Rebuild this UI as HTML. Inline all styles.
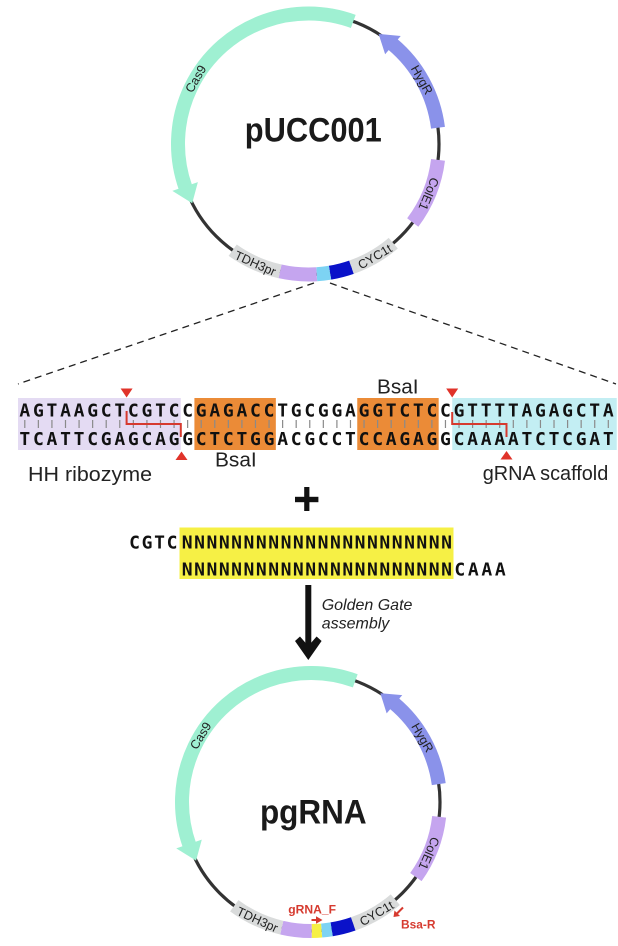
<!DOCTYPE html>
<html><head><meta charset="utf-8">
<style>
html,body{margin:0;padding:0;background:#fff;}
svg{display:block;}
</style></head>
<body>
<svg width="618" height="946" viewBox="0 0 618 946" xmlns="http://www.w3.org/2000/svg">
<rect width="618" height="946" fill="#fff"/>

<!-- ===== TOP PLASMID ===== -->
<g>
<circle cx="308.5" cy="144" r="130.5" fill="none" stroke="#333" stroke-width="3.2"/>
<g fill="none" stroke-width="14">
<circle cx="308.5" cy="144" r="130.5" stroke="#9ff0d2" stroke-dasharray="295 2000" transform="rotate(160.5 308.5 144)"/>
<circle cx="308.5" cy="144" r="130.5" stroke="#8a92ea" stroke-dasharray="97.5 2000" transform="rotate(-50 308.5 144)"/>
<circle cx="308.5" cy="144" r="130.5" stroke="#c5a5ef" stroke-dasharray="68.3 2000" transform="rotate(7 308.5 144)"/>
<circle cx="308.5" cy="144" r="130.5" stroke="#d9dbdb" stroke-dasharray="48.5 2000" transform="rotate(49.5 308.5 144)"/>
<circle cx="308.5" cy="144" r="130.5" stroke="#0a12c9" stroke-dasharray="22.1 2000" transform="rotate(70.8 308.5 144)"/>
<circle cx="308.5" cy="144" r="130.5" stroke="#7dd3f3" stroke-dasharray="13.4 2000" transform="rotate(80.5 308.5 144)"/>
<circle cx="308.5" cy="144" r="130.5" stroke="#c5a5ef" stroke-dasharray="36.9 2000" transform="rotate(86.4 308.5 144)"/>
<circle cx="308.5" cy="144" r="130.5" stroke="#d9dbdb" stroke-dasharray="52.2 2000" transform="rotate(102.6 308.5 144)"/>
</g>
<polygon points="308.5,0 308.5,27 290.34,14.77" fill="#9ff0d2" transform="rotate(251 308.5 144)"/>
<polygon points="308.5,2 308.5,26 290.34,14.77" fill="#8a92ea" transform="rotate(40.5 308.5 144)"/>
<g font-family="Liberation Sans, Arial, sans-serif" font-size="12.5" fill="#222" text-anchor="middle">
<text x="308.5" y="18" transform="rotate(300 308.5 144)">Cas9</text>
<text x="308.5" y="18" transform="rotate(60.5 308.5 144)">HygR</text>
<text x="308.5" y="18" transform="rotate(112.5 308.5 144)">ColE1</text>
<text x="308.5" y="279" transform="rotate(24 308.5 144)">TDH3pr</text>
<text x="308.5" y="279" transform="rotate(-30.5 308.5 144)">CYC1t</text>
</g>
<text x="313.3" y="141.7" font-family="Liberation Sans, Arial, sans-serif" font-weight="bold" font-size="34" fill="#1a1a1a" text-anchor="middle" textLength="137" lengthAdjust="spacingAndGlyphs">pUCC001</text>
</g>

<!-- dashed zoom lines -->
<g stroke="#222" stroke-width="1.3" stroke-dasharray="7 5" fill="none">
<line x1="314" y1="283" x2="18" y2="384"/>
<line x1="330" y1="283" x2="616" y2="384"/>
</g>

<!-- ===== SEQUENCE ===== -->
<rect x="18" y="398" width="162.8" height="52" fill="#e4dbf3"/>
<rect x="194.41" y="398" width="81.42" height="52" fill="#eb8b37"/>
<rect x="357.25" y="398" width="81.42" height="52" fill="#eb8b37"/>
<rect x="452.24" y="398" width="164.5" height="52" fill="#c3eef3"/>

<path stroke="#8a8a8a" stroke-width="1.2" fill="none" d="M24.79 420V428M38.36 420V428M51.93 420V428M65.5 420V428M79.07 420V428M92.64 420V428M106.21 420V428M119.78 420V428M133.35 420V428M146.92 420V428M160.49 420V428M174.06 420V428M187.63 420V428M201.2 420V428M214.77 420V428M228.34 420V428M241.91 420V428M255.48 420V428M269.05 420V428M282.62 420V428M296.19 420V428M309.76 420V428M323.33 420V428M336.9 420V428M350.47 420V428M364.04 420V428M377.61 420V428M391.18 420V428M404.75 420V428M418.32 420V428M431.89 420V428M445.46 420V428M459.03 420V428M472.6 420V428M486.17 420V428M499.74 420V428M513.31 420V428M526.88 420V428M540.45 420V428M554.02 420V428M567.59 420V428M581.16 420V428M594.73 420V428M608.3 420V428"/>

<g font-family="DejaVu Sans Mono, Liberation Mono, monospace" font-weight="bold" font-size="18" fill="#111" text-anchor="middle">
<text x="24.79 38.36 51.93 65.5 79.07 92.64 106.21 119.78 133.35 146.92 160.49 174.06 187.63 201.2 214.77 228.34 241.91 255.48 269.05 282.62 296.19 309.76 323.33 336.9 350.47 364.04 377.61 391.18 404.75 418.32 431.89 445.46 459.03 472.6 486.17 499.74 513.31 526.88 540.45 554.02 567.59 581.16 594.73 608.3" y="416.7">AGTAAGCTCGTCCGAGACCTGCGGAGGTCTCCGTTTTAGAGCTA</text>
<text x="24.79 38.36 51.93 65.5 79.07 92.64 106.21 119.78 133.35 146.92 160.49 174.06 187.63 201.2 214.77 228.34 241.91 255.48 269.05 282.62 296.19 309.76 323.33 336.9 350.47 364.04 377.61 391.18 404.75 418.32 431.89 445.46 459.03 472.6 486.17 499.74 513.31 526.88 540.45 554.02 567.59 581.16 594.73 608.3" y="445">TCATTCGAGCAGGCTCTGGACGCCTCCAGAGGCAAAATCTCGAT</text>
</g>

<!-- cut lines -->
<g stroke="#d63a2f" stroke-width="2" fill="none">
<polyline points="126.6,411 126.6,424 180.8,424 180.8,437"/>
<polyline points="452.2,412 452.2,424 506.5,424 506.5,437"/>
</g>
<g fill="#e0332a">
<polygon points="120.6,388.5 132.6,388.5 126.6,397.5"/>
<polygon points="446.2,388.5 458.2,388.5 452.2,397.5"/>
<polygon points="175.5,460 187.5,460 181.5,451.5"/>
<polygon points="500.5,459.5 512.5,459.5 506.5,451"/>
</g>

<g font-family="Liberation Sans, Arial, sans-serif" font-size="20" fill="#222">
<text x="28" y="481" textLength="124" lengthAdjust="spacingAndGlyphs">HH ribozyme</text>
<text x="215" y="466.7" textLength="41.7" lengthAdjust="spacingAndGlyphs">BsaI</text>
<text x="377" y="393.3" textLength="41.5" lengthAdjust="spacingAndGlyphs">BsaI</text>
<text x="482.7" y="480" textLength="125.6" lengthAdjust="spacingAndGlyphs">gRNA scaffold</text>
</g>

<!-- plus -->
<rect x="304.2" y="487" width="5.2" height="24" fill="#111"/>
<rect x="295" y="496.8" width="23.4" height="5.4" fill="#111"/>

<!-- insert -->
<rect x="179.5" y="527.5" width="274" height="51.5" fill="#f6f045"/>
<g font-family="DejaVu Sans Mono, Liberation Mono, monospace" font-weight="bold" font-size="18" fill="#111" text-anchor="middle">
<text x="134.5 147 159.5 172 187.2 199.55 211.9 224.25 236.6 248.95 261.3 273.65 286 298.35 310.7 323.05 335.4 347.75 360.1 372.45 384.8 397.15 409.5 421.85 434.2 446.55" y="548.7">CGTCNNNNNNNNNNNNNNNNNNNNNN</text>
<text x="187.2 199.55 211.9 224.25 236.6 248.95 261.3 273.65 286 298.35 310.7 323.05 335.4 347.75 360.1 372.45 384.8 397.15 409.5 421.85 434.2 446.55 459.75 473.25 486.75 500.25" y="575.3">NNNNNNNNNNNNNNNNNNNNNNCAAA</text>
</g>

<!-- arrow -->
<rect x="305.3" y="585" width="6" height="66" fill="#111"/>
<polygon points="295,641 300,636.5 308.3,646 316.6,636.5 321.6,641 308.3,660" fill="#111"/>
<g font-family="Liberation Sans, Arial, sans-serif" font-size="16" font-style="italic" fill="#222">
<text x="321.7" y="610">Golden Gate</text>
<text x="321.7" y="628.3">assembly</text>
</g>

<!-- ===== BOTTOM PLASMID ===== -->
<g>
<circle cx="311" cy="802" r="129" fill="none" stroke="#333" stroke-width="3.2"/>
<g fill="none" stroke-width="14">
<circle cx="311" cy="802" r="129" stroke="#9ff0d2" stroke-dasharray="291.6 2000" transform="rotate(160.5 311 802)"/>
<circle cx="311" cy="802" r="129" stroke="#8a92ea" stroke-dasharray="94.6 2000" transform="rotate(-50 311 802)"/>
<circle cx="311" cy="802" r="129" stroke="#c5a5ef" stroke-dasharray="65.3 2000" transform="rotate(6.6 311 802)"/>
<circle cx="311" cy="802" r="129" stroke="#d9dbdb" stroke-dasharray="48.9 2000" transform="rotate(49.2 311 802)"/>
<circle cx="311" cy="802" r="129" stroke="#0a12c9" stroke-dasharray="22.3 2000" transform="rotate(70.9 311 802)"/>
<circle cx="311" cy="802" r="129" stroke="#7dd3f3" stroke-dasharray="10.1 2000" transform="rotate(80.8 311 802)"/>
<circle cx="311" cy="802" r="129" stroke="#f6f045" stroke-dasharray="9.9 2000" transform="rotate(85.3 311 802)"/>
<circle cx="311" cy="802" r="129" stroke="#c5a5ef" stroke-dasharray="30.2 2000" transform="rotate(89.7 311 802)"/>
<circle cx="311" cy="802" r="129" stroke="#d9dbdb" stroke-dasharray="52.7 2000" transform="rotate(103.1 311 802)"/>
</g>
<polygon points="311,659.5 311,686.5 293.05,674.25" fill="#9ff0d2" transform="rotate(251 311 802)"/>
<polygon points="311,661.5 311,685.5 293.05,674.25" fill="#8a92ea" transform="rotate(40.5 311 802)"/>
<g font-family="Liberation Sans, Arial, sans-serif" font-size="12.5" fill="#222" text-anchor="middle">
<text x="311" y="677.5" transform="rotate(301 311 802)">Cas9</text>
<text x="311" y="677.5" transform="rotate(60 311 802)">HygR</text>
<text x="311" y="677.5" transform="rotate(113.5 311 802)">ColE1</text>
<text x="311" y="935.5" transform="rotate(24.5 311 802)">TDH3pr</text>
<text x="311" y="935.5" transform="rotate(-30.5 311 802)">CYC1t</text>
</g>
<text x="313.3" y="823.3" font-family="Liberation Sans, Arial, sans-serif" font-weight="bold" font-size="34" fill="#1a1a1a" text-anchor="middle" textLength="106.7" lengthAdjust="spacingAndGlyphs">pgRNA</text>
</g>

<!-- primers -->
<g font-family="Liberation Sans, Arial, sans-serif" font-weight="bold" font-size="12" fill="#d63a2f">
<text x="288.3" y="913.3" textLength="47.7" lengthAdjust="spacingAndGlyphs">gRNA_F</text>
<text x="401" y="928.3" textLength="34.5" lengthAdjust="spacingAndGlyphs">Bsa-R</text>
</g>
<g stroke="#d63a2f" stroke-width="2" fill="none">
<line x1="311.5" y1="920" x2="318" y2="920"/>
<line x1="403" y1="907.5" x2="397" y2="913.5"/>
</g>
<g fill="#d63a2f">
<polygon points="316,916.3 322.5,920 316,923.7"/>
<polygon points="393.5,917 394.5,910.5 400,916"/>
</g>

</svg>
</body></html>
